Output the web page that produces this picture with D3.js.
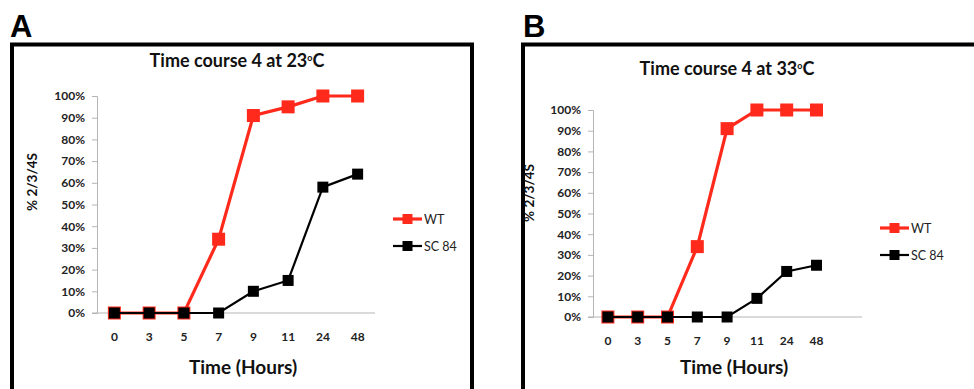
<!DOCTYPE html>
<html><head><meta charset="utf-8">
<script src="https://cdn.jsdelivr.net/npm/d3@7"></script>
<style>body{margin:0;background:#fff;} svg{display:block;}</style>
</head><body>
<svg id="chart" width="974" height="389"></svg>
<script>
const categories = ["0","3","5","7","9","11","24","48"];
const yTicks = [0,10,20,30,40,50,60,70,80,90,100];
const seriesNames = ["WT","SC 84"];
const seriesColors = ["#ff2a1c","#000000"];
const wtA = [0,0,0,34,91,95,100,100];
const sc84A = [0,0,0,0,10,15,58,64];
const wtB = [0,0,0,34,91,100,100,100];
const sc84B = [0,0,0,0,0,9,22,25];
const panelLetters = ["A","B"];
const titles = ["Time course 4 at 23", "Time course 4 at 33"];

const svg = d3.select("#chart");
const font = "Lato, 'Open Sans', sans-serif";

const layouts = [
  {letterX:10, boxX:12, boxW:460, titleX:237, titleY:67, x0:97, step:34.75, axisEnd:375, yTop:96, yBot:313,
   yTitleX:37, yTitleY:182, xLabY:337, xTitleX:243, xTitleY:374, legX:393, legY:[219,246]},
  {letterX:523, boxX:523, boxW:470, titleX:727, titleY:75, x0:593, step:29.8, axisEnd:862, yTop:110, yBot:317,
   yTitleX:534, yTitleY:193, xLabY:341, xTitleX:734, xTitleY:374, legX:880, legY:[228,255]}
];
const data = [[wtA, sc84A],[wtB, sc84B]];

layouts.forEach((L, pi) => {
  const g = svg.append("g");
  g.append("text").attr("x", L.letterX).attr("y", 37).text(panelLetters[pi])
    .attr("font-family","Arial, 'Liberation Sans', sans-serif").attr("font-weight","bold")
    .attr("font-size", 31).attr("fill","#000");
  g.append("rect").attr("x", L.boxX).attr("y", 44.5).attr("width", L.boxW).attr("height", 360)
    .attr("fill","none").attr("stroke","#000").attr("stroke-width",4);
  const t = g.append("text").attr("x", L.titleX).attr("y", L.titleY).attr("text-anchor","middle")
    .attr("font-family", font).attr("font-weight","bold").attr("font-size",18).attr("fill","#111");
  t.append("tspan").text(titles[pi]);
  t.append("tspan").text("o").attr("font-size",9).attr("dy",-6);
  t.append("tspan").text("C").attr("dy",6);

  const x = d3.scaleBand().domain(categories).range([L.x0, L.x0 + L.step*categories.length]);
  const y = d3.scaleLinear().domain([0,100]).range([L.yBot, L.yTop]);

  // y axis
  const ya = g.append("g").attr("transform",`translate(${L.x0},0)`)
    .call(d3.axisLeft(y).tickValues(yTicks).tickFormat(d => d + "%").tickSize(5).tickPadding(7));
  ya.select(".domain").attr("stroke","#b5b5b5");
  ya.selectAll(".tick line").attr("stroke","#b5b5b5");
  ya.selectAll("text").attr("font-family",font).attr("font-weight","bold").attr("font-size",12).attr("fill","#222");

  // x axis
  const xa = g.append("g").attr("transform",`translate(0,${L.yBot})`)
    .call(d3.axisBottom(x).tickSize(0).tickPadding(0));
  xa.select(".domain").remove();
  xa.selectAll("text").attr("font-family",font).attr("font-weight","bold").attr("font-size",12)
    .attr("fill","#222").attr("dy",0).attr("y", L.xLabY - L.yBot + 4);
  g.append("line").attr("x1", L.x0 - 5).attr("x2", L.axisEnd).attr("y1", L.yBot).attr("y2", L.yBot)
    .attr("stroke","#b5b5b5");

  g.append("text").attr("transform",`translate(${L.yTitleX},${L.yTitleY}) rotate(-90)`)
    .attr("text-anchor","middle").attr("font-family",font).attr("font-weight","bold")
    .attr("font-size",13.5).attr("fill","#111").text("% 2/3/4S");
  g.append("text").attr("x", L.xTitleX).attr("y", L.xTitleY).attr("text-anchor","middle")
    .attr("font-family",font).attr("font-weight","bold").attr("font-size",19).attr("fill","#111")
    .text("Time (Hours)");

  const cx = d => x(d) + x.bandwidth()/2;
  data[pi].forEach((vals, si) => {
    const color = seriesColors[si];
    const lw = si === 0 ? 3.2 : 2.2;
    const ms = si === 0 ? 13 : 11;
    const line = d3.line().x((d,i) => cx(categories[i])).y(d => y(d));
    g.append("path").datum(vals).attr("d", line).attr("fill","none").attr("stroke",color).attr("stroke-width",lw);
    g.selectAll(null).data(vals).enter().append("rect")
      .attr("x",(d,i) => cx(categories[i]) - ms/2).attr("y", d => y(d) - ms/2)
      .attr("width", ms).attr("height", ms).attr("fill", color);
    // legend
    const ly = L.legY[si];
    g.append("line").attr("x1", L.legX).attr("x2", L.legX + 29).attr("y1", ly).attr("y2", ly)
      .attr("stroke", color).attr("stroke-width", lw);
    g.append("rect").attr("x", L.legX + 14.5 - 5).attr("y", ly - 5).attr("width",10).attr("height",10).attr("fill",color);
    g.append("text").attr("x", L.legX + 31).attr("y", ly + 4.5).attr("font-family",font)
      .attr("font-size",12.5).attr("fill","#222").text(seriesNames[si]);
  });
});
</script>
</body></html>
